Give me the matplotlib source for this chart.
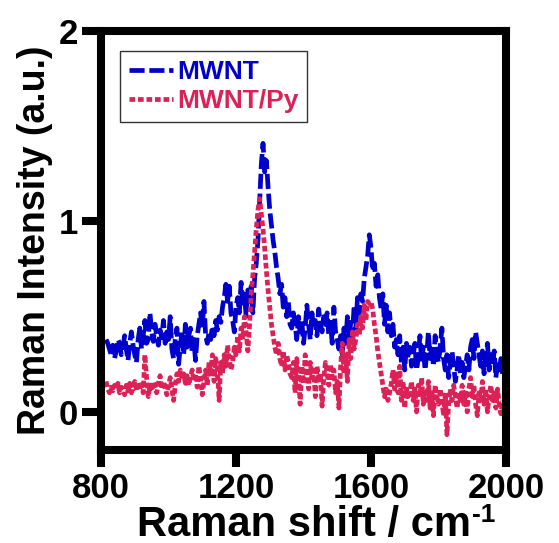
import numpy as np
import matplotlib
matplotlib.use("Agg")
import matplotlib.pyplot as plt

plt.rcParams['font.family'] = ['Liberation Sans', 'DejaVu Sans']
plt.rcParams['font.weight'] = 'bold'

shift = np.arange(815, 1991, 5)

mwnt = [
    0.38, 0.36, 0.33, 0.30, 0.35, 0.28, 0.32, 0.38, 0.36, 0.30,
    0.34, 0.40, 0.33, 0.27, 0.36, 0.42, 0.35, 0.30, 0.26, 0.38,
    0.44, 0.33, 0.40, 0.48, 0.36, 0.38, 0.52, 0.42, 0.37, 0.46,
    0.40, 0.35, 0.43, 0.39, 0.48, 0.36, 0.42, 0.38, 0.50, 0.33,
    0.28, 0.38, 0.44, 0.25, 0.35, 0.42, 0.30, 0.46, 0.34, 0.40,
    0.44, 0.31, 0.38, 0.27, 0.40, 0.46, 0.52, 0.44, 0.58, 0.40,
    0.36, 0.42, 0.38, 0.45, 0.40, 0.48, 0.43, 0.50, 0.47, 0.55,
    0.60, 0.67, 0.58, 0.66, 0.52, 0.48, 0.42, 0.55, 0.60, 0.52,
    0.68, 0.55, 0.62, 0.50, 0.64, 0.58, 0.66, 0.52, 0.70, 0.78,
    0.90, 1.10, 1.30, 1.41, 1.26, 1.32, 1.18, 1.06, 0.98, 0.90,
    0.84, 0.76, 0.70, 0.62, 0.67, 0.55, 0.60, 0.50, 0.58, 0.46,
    0.44, 0.52, 0.46, 0.38, 0.50, 0.42, 0.48, 0.36, 0.44, 0.56,
    0.46, 0.38, 0.52, 0.44, 0.48, 0.40, 0.54, 0.46, 0.42, 0.50,
    0.44, 0.52, 0.40, 0.47, 0.36, 0.55, 0.42, 0.38, 0.33, 0.40,
    0.30, 0.44, 0.36, 0.50, 0.38, 0.47, 0.40, 0.56, 0.44, 0.60,
    0.52, 0.62, 0.58, 0.70, 0.76, 0.82, 0.93, 0.86, 0.74, 0.78,
    0.66, 0.72, 0.60, 0.54, 0.62, 0.46, 0.56, 0.42, 0.52, 0.40,
    0.46, 0.34, 0.38, 0.30, 0.40, 0.26, 0.34, 0.22, 0.36, 0.28,
    0.34, 0.24, 0.30, 0.36, 0.22, 0.28, 0.40, 0.26, 0.34, 0.22,
    0.30, 0.42, 0.28, 0.35, 0.24, 0.40, 0.30, 0.26, 0.34, 0.44,
    0.28, 0.22, 0.30, 0.18, 0.26, 0.32, 0.24, 0.16, 0.22, 0.30,
    0.20, 0.26, 0.18, 0.24, 0.30, 0.22, 0.34, 0.38, 0.28, 0.42,
    0.36, 0.30, 0.24, 0.32, 0.20, 0.28, 0.36, 0.22, 0.30, 0.24,
    0.32, 0.18, 0.26, 0.22, 0.28, 0.20,
]

mwnt_py = [
    0.16, 0.12, 0.10, 0.13, 0.11, 0.14, 0.12, 0.15, 0.10, 0.13,
    0.12, 0.09, 0.14, 0.11, 0.15, 0.10, 0.13, 0.16, 0.11, 0.14,
    0.12, 0.16, 0.10, 0.30, 0.18, 0.08, 0.14, 0.11, 0.16, 0.13,
    0.10, 0.15, 0.19, 0.12, 0.16, 0.13, 0.09, 0.14, 0.18, 0.12,
    0.06, 0.14, 0.20, 0.16, 0.22, 0.17, 0.20, 0.15, 0.19, 0.14,
    0.18, 0.22, 0.16, 0.20, 0.13, 0.24, 0.18, 0.09, 0.16, 0.22,
    0.14, 0.26, 0.20, 0.30, 0.16, 0.28, 0.22, 0.06, 0.26, 0.20,
    0.30, 0.24, 0.35, 0.28, 0.22, 0.26, 0.34, 0.30, 0.40, 0.32,
    0.44, 0.38, 0.50, 0.42, 0.32, 0.45, 0.62, 0.72, 0.84, 0.96,
    1.06, 1.12, 1.04, 0.96, 0.86, 0.74, 0.64, 0.55, 0.46, 0.40,
    0.34, 0.30, 0.36, 0.28, 0.24, 0.32, 0.22, 0.30, 0.26, 0.20,
    0.18, 0.26, 0.10, 0.28, 0.20, 0.04, 0.24, 0.15, 0.30, 0.20,
    0.12, 0.26, 0.18, 0.22, 0.08, 0.24, 0.16, 0.20, 0.03, 0.18,
    0.26, 0.20, 0.14, 0.25, 0.18, 0.22, 0.10, 0.16, 0.02, 0.24,
    0.36, 0.20, 0.30, 0.16, 0.38, 0.28, 0.42, 0.33, 0.38, 0.46,
    0.40, 0.50, 0.44, 0.56, 0.48, 0.58, 0.57, 0.58, 0.54, 0.46,
    0.40, 0.32, 0.26, 0.20, 0.14, 0.08, 0.12, 0.06, 0.10, 0.15,
    0.22, 0.12, 0.20, 0.10, 0.24, 0.06, 0.16, 0.02, 0.12, 0.08,
    0.10, 0.16, 0.06, 0.12, 0.00, 0.14, 0.08, 0.18, 0.04, 0.12,
    0.06, 0.16, 0.02, 0.10, -0.02, 0.14, 0.08, 0.04, 0.12, 0.06,
    -0.02, 0.10, -0.12, 0.04, 0.12, 0.06, 0.14, 0.08, 0.02, 0.10,
    0.06, 0.14, 0.04, 0.10, 0.00, 0.12, 0.18, 0.08, 0.14, 0.04,
    -0.02, 0.10, 0.06, 0.16, 0.04, 0.12, 0.00, 0.08, 0.14, 0.06,
    0.10, 0.02, 0.12, 0.04, -0.01, 0.06,
]

labels = ['MWNT', 'MWNT/Py']
colors = ['#0000CC', '#DC2157']
xticks = [800, 1200, 1600, 2000]
yticks = [0, 1, 2]

fig = plt.figure(figsize=(5.59, 5.43), dpi=100)
ax = fig.add_axes([0.1807, 0.1713, 0.7245, 0.7716])

ax.plot(shift, mwnt, color=colors[0], lw=3.4, dashes=(3.2, 1.0), label=labels[0])
ax.plot(shift, mwnt_py, color=colors[1], lw=3.4, dashes=(1.2, 0.6), label=labels[1])

ax.set_xlim(800, 2000)
ax.set_ylim(-0.2, 2)
ax.set_xticks(xticks)
ax.set_yticks(yticks)
ax.set_xticklabels([str(t) for t in xticks])
ax.set_yticklabels([str(t) for t in yticks])

for s in ax.spines.values():
    s.set_linewidth(5.8)
    s.set_color('black')
ax.tick_params(direction='out', width=5.8, labelsize=25)
ax.tick_params(axis='x', length=12.5, pad=3)
ax.tick_params(axis='y', length=13.5, pad=3)
for lab in ax.get_xticklabels() + ax.get_yticklabels():
    lab.set_fontweight('bold')

xl = ax.set_xlabel('Raman shift / cm', fontsize=30, fontweight='bold', labelpad=0)
ax.set_ylabel('Raman Intensity (a.u.)', fontsize=27, fontweight='bold', labelpad=4)

leg = ax.legend(loc='upper left', bbox_to_anchor=(0.047, 0.953), fontsize=19,
                frameon=True, fancybox=False, edgecolor='black', handlelength=1.65,
                handletextpad=0.15, borderpad=0.35, labelspacing=0.2, borderaxespad=0)
leg.get_frame().set_linewidth(1.0)
for txt, c in zip(leg.get_texts(), colors):
    txt.set_color(c)
    txt.set_fontweight('bold')

fig.canvas.draw()
bb = xl.get_window_extent(renderer=fig.canvas.get_renderer())
inv = fig.transFigure.inverted()
x1, y1 = inv.transform((bb.x1, bb.y1))
fig.text(x1 + 0.002, y1 + 0.003, '-1', fontsize=19, fontweight='bold',
         ha='left', va='top')

fig.savefig('out.png', dpi=100)
